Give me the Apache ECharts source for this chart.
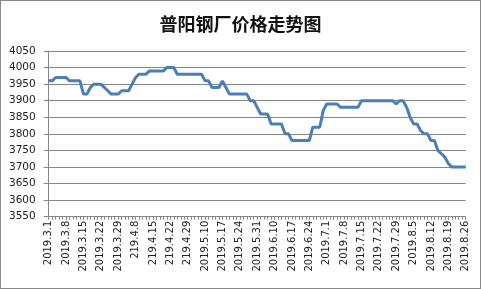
<!DOCTYPE html>
<html>
<head>
<meta charset="utf-8">
<script src="https://cdn.jsdelivr.net/npm/echarts@6/dist/echarts.min.js"></script>
<style>
html,body{margin:0;padding:0;background:#fff;}
#wrap{width:481px;height:289px;box-sizing:border-box;border:1px solid #8a8a8a;position:relative;}
#chart{position:absolute;left:-1px;top:-1px;width:481px;height:289px;}
</style>
</head>
<body>
<div id="wrap"><div id="chart"></div></div>
<script>
const titleText = '普阳钢厂价格走势图';
const tickLabels = ['2019.3.1','2019.3.8','2019.3.15','2019.3.22','2019.3.29','219.4.8','219.4.15','219.4.22','219.4.29','2019.5.10','2019.5.17','2019.5.24','2019.5.31','2019.6.10','2019.6.17','2019.6.24','2019.7.1','2019.7.8','2019.7.15','2019.7.22','2019.7.29','2019.8.5','2019.8.12','2019.8.19','2019.8.26'];
const prices = [
3960,3960,3970,3970,3970,3970,3960,3960,3960,3960,
3920,3920,3940,3950,3950,3950,3940,3930,3920,3920,
3920,3930,3930,3930,3950,3970,3980,3980,3980,3990,
3990,3990,3990,3990,4000,4000,4000,3980,3980,3980,
3980,3980,3980,3980,3980,3960,3960,3940,3940,3940,
3960,3940,3920,3920,3920,3920,3920,3920,3900,3900,
3880,3860,3860,3860,3830,3830,3830,3830,3800,3800,
3780,3780,3780,3780,3780,3780,3820,3820,3820,3870,
3890,3890,3890,3890,3880,3880,3880,3880,3880,3880,
3900,3900,3900,3900,3900,3900,3900,3900,3900,3900,
3890,3900,3900,3880,3850,3830,3830,3810,3800,3800,
3780,3780,3750,3740,3730,3710,3700,3700,3700,3700,
3700];
const yMin = 3550, yMax = 4050, yStep = 50;
const labelEvery = 5;
const categories = prices.map((_, i) => (i % labelEvery === 0 ? (tickLabels[i / labelEvery] || '') : ''));

const chart = echarts.init(document.getElementById('chart'), null, {renderer: 'canvas'});
chart.setOption({
  animation: false,
  backgroundColor: 'transparent',
  title: {
    text: titleText,
    left: 'center',
    top: 10,
    textStyle: {fontFamily: 'Noto Sans CJK SC', fontWeight: 'bold', fontSize: 18, color: '#111'}
  },
  grid: {left: 48.7, right: 15.3, top: 51, bottom: 72.3, containLabel: false},
  xAxis: {
    type: 'category',
    data: categories,
    boundaryGap: false,
    axisLine: {show: true, lineStyle: {color: '#868686', width: 1}},
    axisTick: {show: true, interval: 0, length: 3, lineStyle: {color: '#868686'}},
    axisLabel: {
      interval: 0, rotate: 90, margin: 4,
      fontFamily: 'DejaVu Sans', fontSize: 10, color: '#222'
    },
    splitLine: {show: false}
  },
  yAxis: {
    type: 'value',
    min: yMin, max: yMax, interval: yStep,
    axisLine: {show: true, lineStyle: {color: '#868686', width: 1}},
    axisTick: {show: true, length: 5, lineStyle: {color: '#868686'}},
    axisLabel: {margin: 13, fontFamily: 'DejaVu Sans', fontSize: 10.5, color: '#222', formatter: v => String(v)},
    splitLine: {show: true, lineStyle: {color: '#868686', width: 1}}
  },
  series: [{
    type: 'line',
    data: prices,
    showSymbol: false,
    symbol: 'none',
    lineStyle: {color: '#4a7ebb', width: 3},
    itemStyle: {color: '#4a7ebb'}
  }]
});
</script>
</body>
</html>
